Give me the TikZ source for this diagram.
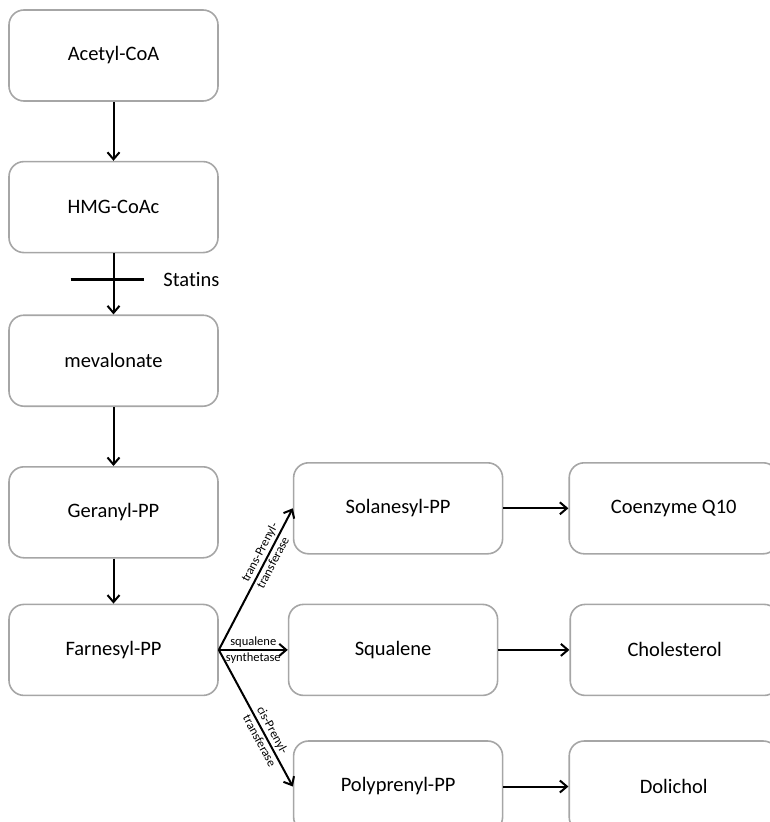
\documentclass[tikz,border=0pt]{standalone}
\usepackage{fontspec}
\setmainfont{Carlito}[Ligatures=NoCommon]
\usepackage{tikz}
\usetikzlibrary{arrows.meta, positioning}

\begin{document}
\begin{tikzpicture}[x=1pt, y=1pt,
  stage/.style={draw=gray!70, line width=1.6pt, rounded corners=15pt, minimum width=209pt, minimum height=91pt, text centered, font=\fontsize{20.5}{24}\selectfont},
  flow/.style={-{Straight Barb[length=7pt, width=12pt]}, line width=2pt},
  enzyme/.style={font=\fontsize{12.5}{14}\selectfont, inner sep=2pt}]

\clip (0,0) rectangle (770,-822);

\node[stage] (acetyl) at (113.5,-55.5) {Acetyl-CoA};
\node[stage, below=59pt of acetyl] (hmg) {HMG-CoAc};
\node[stage, below=61pt of hmg] (meval) {mevalonate};
\node[stage, below=59pt of meval] (geranyl) {Geranyl-PP};
\node[stage, below=45pt of geranyl] (farnesyl) {Farnesyl-PP};

\node[stage, right=69pt of farnesyl] (squalene) {Squalene};
\node[stage, above=49pt of squalene, xshift=5pt] (solanesyl) {Solanesyl-PP};
\node[stage, below=44pt of squalene, xshift=5pt] (polyprenyl) {Polyprenyl-PP};

\node[stage, right=65pt of solanesyl] (coq10) {Coenzyme Q10};
\node[stage, right=71pt of squalene] (cholesterol) {Cholesterol};
\node[stage, right=65pt of polyprenyl] (dolichol) {Dolichol};

\draw[flow] (acetyl) -- (hmg);
\draw[flow] (hmg) -- coordinate[pos=0.43] (statinpt) (meval);
\draw[line width=3.2pt] ([xshift=-43pt]statinpt) -- ([xshift=30pt]statinpt) node[right=15pt, font=\fontsize{20.5}{24}\selectfont] (statins) {Statins};
\draw[flow] (meval) -- (geranyl);
\draw[flow] (geranyl) -- (farnesyl);

\draw[flow] (farnesyl.east) -- node[enzyme, sloped, above, pos=0.66] (transtop) {trans-Prenyl-} node[enzyme, sloped, below, pos=0.64] (transbot) {transferase} (solanesyl.west);
\draw[flow] (farnesyl.east) -- node[enzyme, above, inner sep=1.5pt] (sqtop) {squalene} node[enzyme, below, inner sep=1.5pt] (sqbot) {synthetase} (squalene.west);
\draw[flow] (farnesyl.east) -- node[enzyme, sloped, above, pos=0.62] (cistop) {cis-Prenyl-} node[enzyme, sloped, below, pos=0.64] (cisbot) {transferase} (polyprenyl.west);

\draw[flow] (solanesyl) -- (coq10);
\draw[flow] (squalene) -- (cholesterol);
\draw[flow] (polyprenyl) -- (dolichol);
\end{tikzpicture}
\end{document}
